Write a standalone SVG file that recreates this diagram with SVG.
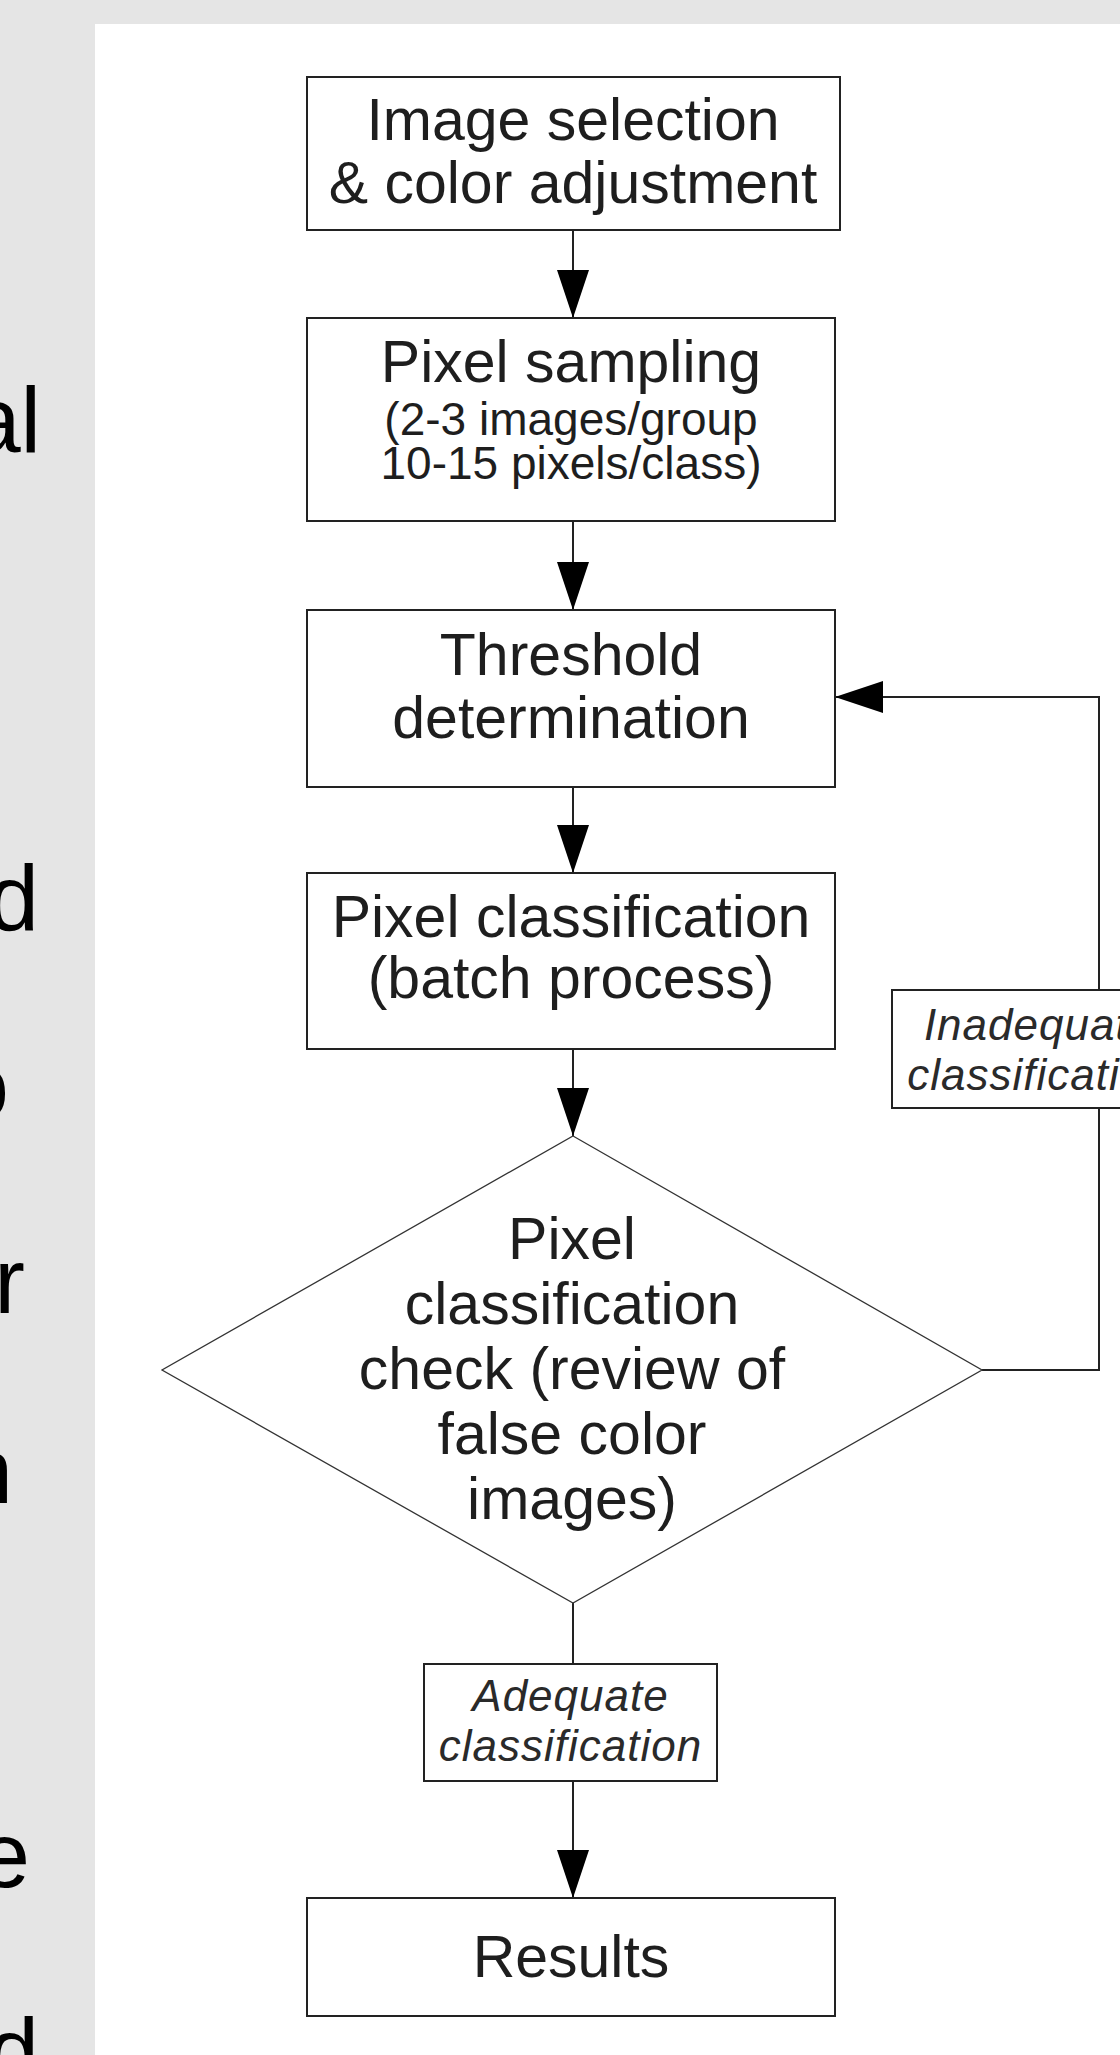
<svg xmlns="http://www.w3.org/2000/svg" width="1120" height="2055" viewBox="0 0 1120 2055">
<defs>
<style>
.box{fill:#fff;stroke:#222;stroke-width:2}
.dia{fill:#fff;stroke:#333;stroke-width:1.3}
.lbl{fill:#fff;stroke:#222;stroke-width:2}
.t{font-family:"Liberation Sans",Arial,sans-serif;font-size:59px;fill:#1e1e1e;text-anchor:middle}
.s{font-family:"Liberation Sans",Arial,sans-serif;font-size:46px;fill:#1e1e1e;text-anchor:middle}
.i{font-family:"Liberation Sans",Arial,sans-serif;font-size:44px;font-style:italic;fill:#2a2a2a;text-anchor:middle;letter-spacing:1px}
.side{font-family:"Liberation Sans",Arial,sans-serif;font-size:92px;fill:#000;text-anchor:end}
.c{fill:none;stroke:#222;stroke-width:2}
</style>
<marker id="ah" viewBox="0 0 48 32" refX="48" refY="16" markerWidth="48" markerHeight="32" markerUnits="userSpaceOnUse" orient="auto">
<path d="M0,0 L48,16 L0,32 Z" fill="#000"/>
</marker>
</defs>
<rect x="0" y="0" width="1120" height="2055" fill="#e5e5e5"/>
<rect x="95" y="24" width="1025" height="2031" fill="#fff"/>
<g id="side-text">
<text class="side" x="41" y="452">al</text>
<text class="side" x="39" y="930">d</text>
<text class="side" x="9" y="1118">o</text>
<text class="side" x="25" y="1313">r</text>
<text class="side" x="13" y="1503">n</text>
<text class="side" x="30" y="1887">e</text>
<text class="side" x="39" y="2083">d</text>
</g>
<g id="connectors">
<line class="c" x1="573" y1="230" x2="573" y2="318" marker-end="url(#ah)"/>
<line class="c" x1="573" y1="521" x2="573" y2="610" marker-end="url(#ah)"/>
<line class="c" x1="573" y1="787" x2="573" y2="873" marker-end="url(#ah)"/>
<line class="c" x1="573" y1="1049" x2="573" y2="1136" marker-end="url(#ah)"/>
<line class="c" x1="573" y1="1603" x2="573" y2="1664"/>
<line class="c" x1="573" y1="1781" x2="573" y2="1898" marker-end="url(#ah)"/>
<polyline class="c" points="982,1370 1099,1370 1099,697 835,697" marker-end="url(#ah)"/>
</g>
<g id="n1">
<rect class="box" x="307" y="77" width="533" height="153"/>
<text class="t" x="573" y="140">Image selection</text>
<text class="t" x="573" y="203">&amp; color adjustment</text>
</g>
<g id="n2">
<rect class="box" x="307" y="318" width="528" height="203"/>
<text class="t" x="571" y="382">Pixel sampling</text>
<text class="s" x="571" y="435">(2-3 images/group</text>
<text class="s" x="571" y="479">10-15 pixels/class)</text>
</g>
<g id="n3">
<rect class="box" x="307" y="610" width="528" height="177"/>
<text class="t" x="571" y="675">Threshold</text>
<text class="t" x="571" y="738">determination</text>
</g>
<g id="n4">
<rect class="box" x="307" y="873" width="528" height="176"/>
<text class="t" x="571" y="937">Pixel classification</text>
<text class="t" x="571" y="998">(batch process)</text>
</g>
<g id="n5">
<polygon class="dia" points="573,1136 982,1370 573,1603 162,1370"/>
<text class="t" x="572" y="1259">Pixel</text>
<text class="t" x="572" y="1324">classification</text>
<text class="t" x="572" y="1389">check (review of</text>
<text class="t" x="572" y="1454">false color</text>
<text class="t" x="572" y="1519">images)</text>
</g>
<g id="l1">
<rect class="lbl" x="892" y="990" width="294" height="118"/>
<text class="i" x="1039" y="1040">Inadequate</text>
<text class="i" x="1039" y="1090">classification</text>
</g>
<g id="l2">
<rect class="lbl" x="424" y="1664" width="293" height="117"/>
<text class="i" x="570.5" y="1711">Adequate</text>
<text class="i" x="570.5" y="1761">classification</text>
</g>
<g id="n6">
<rect class="box" x="307" y="1898" width="528" height="118"/>
<text class="t" x="571" y="1977">Results</text>
</g>
</svg>
